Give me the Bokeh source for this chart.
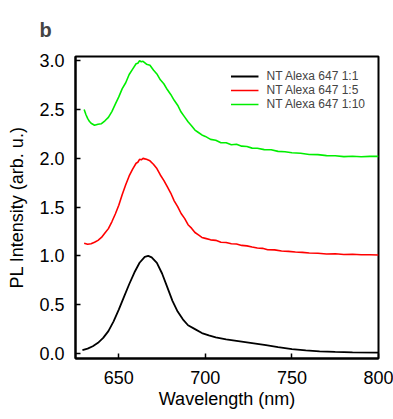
from bokeh.plotting import figure
from bokeh.models import FixedTicker, Range1d, Legend, LegendItem
from bokeh.embed import file_html
from bokeh.resources import INLINE

# ---- data ----
black_wl = [629, 632, 635, 638, 641, 644, 647, 650, 653, 656, 659, 662, 665, 667, 669, 672,
            675, 678, 681, 684, 687, 690, 694, 698, 702, 706, 712, 720, 728, 735, 742, 750,
            758, 766, 775, 785, 800]
black_pl = [0.035, 0.05, 0.075, 0.11, 0.16, 0.23, 0.33, 0.45, 0.58, 0.71, 0.83, 0.93, 0.99, 1.0,
            0.985, 0.93, 0.82, 0.68, 0.54, 0.43, 0.35, 0.29, 0.25, 0.21, 0.185, 0.165, 0.145,
            0.125, 0.105, 0.085, 0.065, 0.045, 0.032, 0.022, 0.016, 0.012, 0.01]

red_wl = [630, 632, 634, 636, 638, 640, 642, 644, 646, 648, 650, 652, 654, 656, 658, 660, 661,
          662, 663, 664, 665, 666, 668, 670, 672, 674, 676, 678, 680, 682, 684, 686, 688, 690,
          692, 694, 696, 698, 700, 703, 706, 709, 712, 715, 718, 721, 724, 727, 730, 733, 736,
          740, 744, 748, 752, 756, 760, 765, 770, 775, 780, 785, 790, 795, 800]
red_pl = [1.13, 1.12, 1.125, 1.14, 1.16, 1.19, 1.235, 1.28, 1.35, 1.43, 1.52, 1.63, 1.73, 1.82,
          1.89, 1.95, 1.96, 1.99, 1.985, 2.0, 1.995, 1.99, 1.975, 1.94, 1.895, 1.83, 1.775,
          1.71, 1.645, 1.565, 1.505, 1.435, 1.385, 1.32, 1.285, 1.24, 1.215, 1.19, 1.18, 1.165,
          1.16, 1.14, 1.138, 1.125, 1.122, 1.108, 1.103, 1.092, 1.082, 1.078, 1.064, 1.062,
          1.05, 1.047, 1.04, 1.037, 1.03, 1.027, 1.02, 1.022, 1.015, 1.017, 1.012, 1.013, 1.01]

green_wl = [630, 631, 632, 633, 634, 636, 638, 640, 642, 644, 646, 648, 650, 652, 654, 656, 658,
            660, 661, 662, 663, 664, 666, 668, 670, 672, 674, 676, 678, 680, 682, 684, 686, 688,
            690, 692, 694, 696, 698, 700, 703, 706, 709, 712, 715, 718, 721, 724, 727, 730, 734,
            738, 742, 746, 750, 755, 760, 765, 770, 775, 780, 785, 790, 795, 800]
green_pl = [2.50, 2.45, 2.41, 2.38, 2.36, 2.34, 2.35, 2.355, 2.385, 2.42, 2.48, 2.555, 2.63,
            2.715, 2.775, 2.86, 2.915, 2.97, 2.975, 3.0, 2.99, 2.995, 2.965, 2.955, 2.905,
            2.865, 2.805, 2.765, 2.705, 2.655, 2.595, 2.545, 2.475, 2.425, 2.375, 2.335, 2.29,
            2.265, 2.24, 2.225, 2.195, 2.185, 2.16, 2.16, 2.14, 2.145, 2.125, 2.122, 2.105,
            2.103, 2.09, 2.088, 2.072, 2.068, 2.058, 2.052, 2.04, 2.038, 2.028, 2.027, 2.018,
            2.022, 2.016, 2.02, 2.02]

x_ticks = [650, 700, 750, 800]
y_ticks = [0.0, 0.5, 1.0, 1.5, 2.0, 2.5, 3.0]
y_tick_labels = {0.0: "0.0", 0.5: "0.5", 1.0: "1.0", 1.5: "1.5", 2.0: "2.0", 2.5: "2.5", 3.0: "3.0"}

labels = ["NT Alexa 647 1:1", "NT Alexa 647 1:5", "NT Alexa 647 1:10"]
colors = ["#000000", "#ff0000", "#00ee00"]

FONT = "Liberation Sans"

p = figure(frame_width=303, frame_height=302, output_backend="svg", toolbar_location=None,
           x_range=Range1d(625, 800), y_range=Range1d(-0.051, 3.044),
           min_border_left=75, min_border_right=15, min_border_top=55, min_border_bottom=62)

p.title.text = "b"
p.title.text_font = FONT
p.title.text_font_size = "20px"
p.title.text_font_style = "bold"
p.title.align = "left"
p.title.offset = -36
p.title.standoff = 32

p.xgrid.visible = False
p.ygrid.visible = False
p.outline_line_color = "black"
p.outline_line_width = 2
p.background_fill_color = "white"
p.border_fill_color = "white"

r1 = p.line(black_wl, black_pl, line_color=colors[0], line_width=1.8)
r2 = p.line(red_wl, red_pl, line_color=colors[1], line_width=1.6)
r3 = p.line(green_wl, green_pl, line_color=colors[2], line_width=1.6)

for ax in (p.xaxis[0], p.yaxis[0]):
    ax.axis_line_width = 2
    ax.axis_line_color = "black"
    ax.major_tick_in = 5
    ax.major_tick_out = 0
    ax.major_tick_line_width = 1.5
    ax.minor_tick_line_color = None
    ax.major_label_text_font = FONT
    ax.major_label_text_font_size = "18px"
    ax.major_label_text_color = "black"
    ax.axis_label_text_font = FONT
    ax.axis_label_text_font_size = "18px"
    ax.axis_label_text_font_style = "normal"
    ax.axis_label_text_color = "black"

p.xaxis[0].ticker = FixedTicker(ticks=x_ticks)
p.yaxis[0].ticker = FixedTicker(ticks=y_ticks)
p.yaxis[0].major_label_overrides = y_tick_labels
p.xaxis[0].axis_label = "Wavelength (nm)"
p.yaxis[0].axis_label = "PL Intensity (arb. u.)"
p.xaxis[0].major_label_standoff = 12
p.yaxis[0].major_label_standoff = 11
p.xaxis[0].axis_label_standoff = 2
p.yaxis[0].axis_label_standoff = 9

legend = Legend(items=[LegendItem(label=labels[0], renderers=[r1]),
                       LegendItem(label=labels[1], renderers=[r2]),
                       LegendItem(label=labels[2], renderers=[r3])],
                location="top_right")
legend.border_line_color = None
legend.background_fill_alpha = 0
legend.label_text_font = FONT
legend.label_text_font_size = "12px"
legend.glyph_width = 28
legend.glyph_height = 14
legend.label_height = 14
legend.label_standoff = 8
legend.spacing = 0
legend.padding = 0
legend.margin = 13
p.add_layout(legend)

open("out.html", "w").write(file_html(p, INLINE))
